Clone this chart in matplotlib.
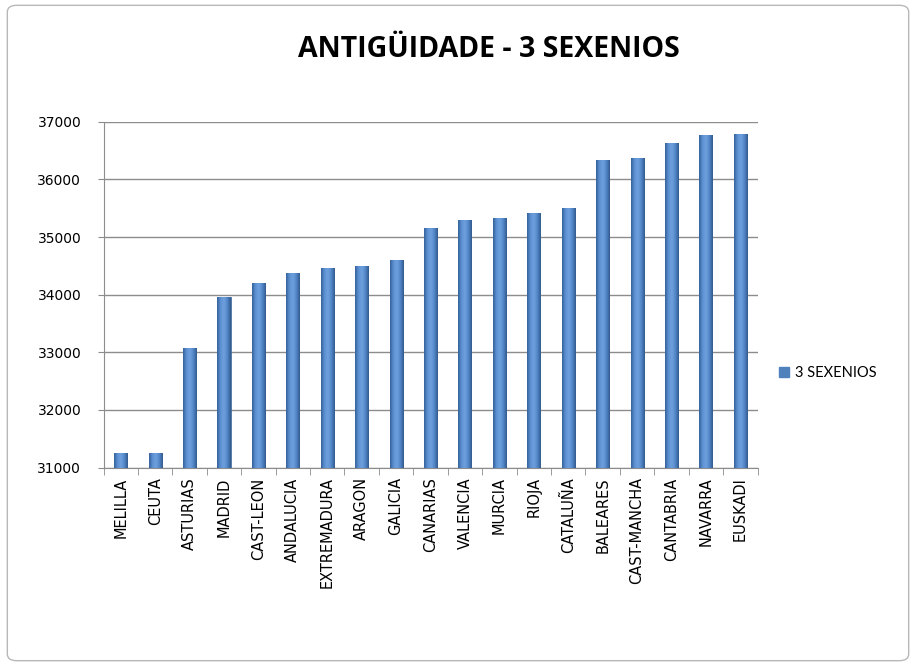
import matplotlib
matplotlib.use("Agg")
import matplotlib.pyplot as plt
import numpy as np
from matplotlib.patches import FancyBboxPatch
from matplotlib.colors import LinearSegmentedColormap

categories = ["MELILLA", "CEUTA", "ASTURIAS", "MADRID", "CAST-LEON", "ANDALUCIA",
              "EXTREMADURA", "ARAGON", "GALICIA", "CANARIAS", "VALENCIA", "MURCIA",
              "RIOJA", "CATALUÑA", "BALEARES", "CAST-MANCHA", "CANTABRIA", "NAVARRA",
              "EUSKADI"]
values = [31250, 31250, 33080, 33960, 34200, 34370, 34460, 34500, 34610, 35150,
          35290, 35340, 35420, 35510, 36330, 36380, 36630, 36770, 36790]
series_name = "3 SEXENIOS"
title = "ANTIGÜIDADE - 3 SEXENIOS"
yticks = [31000, 32000, 33000, 34000, 35000, 36000, 37000]

fig = plt.figure(figsize=(9.16, 6.66), dpi=100)
fig.patch.set_facecolor("white")
border = FancyBboxPatch((0.008, 0.008), 0.984, 0.984, boxstyle="round,pad=0,rounding_size=0.01",
                        transform=fig.transFigure, facecolor="none", edgecolor="#B8B8B8", lw=1.0)
fig.patches.append(border)

ax = fig.add_axes([0.113, 0.298, 0.714, 0.519])
n = len(categories)
x = np.arange(n)
bw = 0.38
bars = ax.bar(x, np.array(values) - 31000, bottom=31000, width=bw, color="#4F81BD",
              edgecolor="#3B6496", linewidth=0.5, zorder=3)

cmap = LinearSegmentedColormap.from_list("cyl", ["#34609A", "#5E92D3", "#6FA0DD", "#5287C8", "#325A8C"])
grad = np.linspace(0, 1, 64).reshape(1, -1)
for b in bars:
    x0 = b.get_x(); w = b.get_width(); y0 = b.get_y(); h = b.get_height()
    im = ax.imshow(grad, extent=[x0, x0 + w, y0, y0 + h], aspect="auto", cmap=cmap,
                   zorder=3.5, interpolation="bicubic")
    im.set_clip_path(b)

ax.set_xlim(-0.5, n - 0.5)
ax.set_ylim(31000, 37000)
ax.set_yticks(yticks)
ax.set_yticklabels([str(v) for v in yticks], fontsize=10, family="DejaVu Sans")
ax.yaxis.grid(True, color="#8C8C8C", lw=1.0, zorder=0)
ax.set_axisbelow(True)
ax.set_xticks(x)
ax.set_xticklabels(categories, rotation=90, fontsize=10.5, family="DejaVu Sans")
ax.set_xticks(np.arange(-0.5, n, 1.0), minor=True)
ax.tick_params(axis="x", which="major", length=0, pad=7)
ax.tick_params(axis="x", which="minor", length=5, color="#8C8C8C")
ax.tick_params(axis="y", length=4, color="#8C8C8C", pad=12)
for s in ["top", "right"]:
    ax.spines[s].set_visible(False)
for s in ["left", "bottom"]:
    ax.spines[s].set_color("#8C8C8C")

fig.text(0.534, 0.925, title, ha="center", va="center", fontsize=20.5, fontweight="bold",
         family="Open Sans", color="#000000")

handle = plt.Rectangle((0, 0), 1, 1, color="#4F81BD")
leg = fig.legend([handle], [series_name], loc="center left", bbox_to_anchor=(0.836, 0.44),
                 frameon=False, prop={"family": "Lato", "size": 10.5},
                 handlelength=0.7, handleheight=0.7, handletextpad=0.4)

fig.savefig("out.png", dpi=100)
